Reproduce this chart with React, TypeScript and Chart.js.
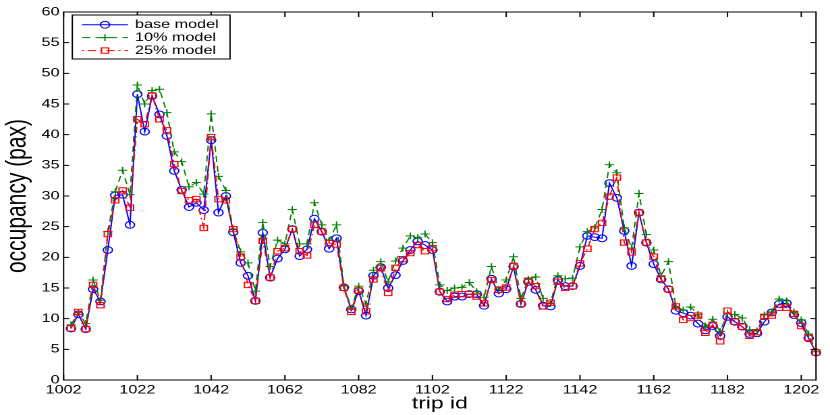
import React, { useEffect, useRef } from "react";
import { Chart, registerables } from "chart.js";

Chart.register(...registerables);

const tripIds = [
  1004, 1006, 1008, 1010, 1012, 1014, 1016, 1018, 1020, 1022,
  1024, 1026, 1028, 1030, 1032, 1034, 1036, 1038, 1040, 1042,
  1044, 1046, 1048, 1050, 1052, 1054, 1056, 1058, 1060, 1062,
  1064, 1066, 1068, 1070, 1072, 1074, 1076, 1078, 1080, 1082,
  1084, 1086, 1088, 1090, 1092, 1094, 1096, 1098, 1100, 1102,
  1104, 1106, 1108, 1110, 1112, 1114, 1116, 1118, 1120, 1122,
  1124, 1126, 1128, 1130, 1132, 1134, 1136, 1138, 1140, 1142,
  1144, 1146, 1148, 1150, 1152, 1154, 1156, 1158, 1160, 1162,
  1164, 1166, 1168, 1170, 1172, 1174, 1176, 1178, 1180, 1182,
  1184, 1186, 1188, 1190, 1192, 1194, 1196, 1198, 1200, 1202,
  1204, 1206,
];

const baseModel = [
  8.4, 10.7, 8.3, 14.8, 12.8, 21.2, 30.1, 30.2, 25.3, 46.6,
  40.5, 46.3, 43.3, 39.8, 34.1, 31.0, 28.2, 28.9, 27.7, 39.1,
  27.3, 30.0, 24.1, 19.1, 17.0, 12.9, 24.0, 16.7, 19.8, 21.3,
  24.6, 20.2, 21.3, 26.3, 24.2, 21.4, 23.1, 15.1, 11.5, 14.5,
  10.5, 17.0, 18.4, 15.0, 17.1, 19.4, 21.2, 22.6, 22.0, 21.2,
  14.4, 12.8, 13.6, 13.6, 14.0, 14.0, 12.1, 16.5, 14.1, 14.8,
  18.5, 12.4, 16.0, 14.7, 12.1, 12.0, 16.3, 15.3, 15.3, 18.6,
  23.5, 23.3, 23.1, 32.1, 29.7, 24.3, 18.6, 27.3, 22.4, 18.9,
  16.4, 14.8, 11.3, 10.9, 10.5, 9.2, 8.1, 8.8, 7.2, 10.3,
  9.5, 8.7, 7.5, 7.6, 9.5, 11.0, 12.4, 12.5, 10.6, 9.3,
  6.8, 4.5,
];

const model10 = [
  9.0, 11.0, 9.2, 16.3, 13.0, 24.2, 30.7, 34.2, 30.2, 48.1,
  45.0, 47.2, 47.4, 43.6, 37.2, 35.6, 31.5, 32.2, 30.3, 43.4,
  33.2, 30.9, 24.5, 20.9, 19.1, 14.5, 25.7, 18.5, 22.8, 22.2,
  27.8, 22.2, 22.2, 28.9, 25.3, 22.8, 25.3, 15.3, 11.7, 15.3,
  12.4, 17.9, 19.3, 16.0, 19.4, 21.5, 23.5, 23.2, 23.8, 22.4,
  15.5, 14.6, 15.0, 15.1, 15.9, 14.4, 13.5, 18.5, 14.8, 16.3,
  20.1, 13.3, 16.4, 16.8, 13.3, 12.5, 17.0, 16.5, 16.6, 21.7,
  24.2, 24.8, 27.8, 35.1, 33.8, 24.8, 21.5, 30.4, 23.7, 21.2,
  17.0, 19.3, 12.0, 11.4, 11.9, 10.7, 8.8, 9.9, 7.9, 10.9,
  10.7, 10.1, 8.2, 8.0, 10.6, 11.1, 13.2, 12.9, 11.1, 9.8,
  7.5, 4.6,
];

const model25 = [
  8.4, 11.1, 8.3, 15.5, 12.2, 23.8, 29.3, 30.9, 28.1, 42.5,
  41.7, 46.4, 42.5, 40.7, 35.2, 30.8, 29.3, 29.5, 24.8, 39.6,
  29.5, 29.3, 24.6, 20.1, 15.5, 12.9, 22.7, 16.7, 21.0, 21.5,
  24.6, 21.0, 20.3, 25.3, 24.2, 22.3, 22.1, 15.0, 11.1, 14.6,
  11.2, 16.4, 18.2, 14.2, 18.3, 19.7, 20.7, 22.0, 21.0, 21.5,
  14.4, 13.2, 13.9, 14.0, 14.0, 13.6, 12.5, 16.3, 14.7, 15.1,
  18.6, 12.4, 16.2, 15.3, 12.0, 12.6, 16.0, 15.0, 15.3, 19.0,
  21.4, 24.6, 25.6, 29.9, 33.0, 22.4, 20.8, 27.3, 22.4, 20.1,
  16.5, 14.8, 12.0, 9.8, 10.1, 10.5, 7.7, 9.0, 6.3, 11.3,
  9.5, 8.7, 7.2, 7.8, 10.3, 10.5, 11.8, 11.8, 10.8, 8.8,
  6.9, 4.5,
];

const seriesLabels = ["base model", "10% model", "25% model"];
const xTickValues = [1002, 1022, 1042, 1062, 1082, 1102, 1122, 1142, 1162, 1182, 1202];
const yTickValues = [0, 5, 10, 15, 20, 25, 30, 35, 40, 45, 50, 55, 60];
const xTitle = "trip id";
const yTitle = "occupancy (pax)";

// The reference figure is horizontally stretched; draw on a narrower canvas and stretch it.
const OUT_W = 830;
const OUT_H = 415;
const IN_W = 615;
const S = OUT_W / IN_W;

const FONT = '"Liberation Sans", Arial, Helvetica, sans-serif';

const framePlugin = {
  id: "matlabFrame",
  afterDraw(chart: any) {
    const { ctx, chartArea } = chart;
    const { left, right, top, bottom } = chartArea;
    const xs = chart.scales.x;
    const ys = chart.scales.y;
    ctx.save();
    ctx.setLineDash([]);
    ctx.strokeStyle = "#000";
    ctx.lineWidth = 1;
    ctx.strokeRect(left, top, right - left, bottom - top);
    ctx.beginPath();
    const tx = 5;
    const ty = 5.5 / S;
    xTickValues.forEach((v) => {
      const px = xs.getPixelForValue(v);
      ctx.moveTo(px, bottom);
      ctx.lineTo(px, bottom - tx);
      ctx.moveTo(px, top);
      ctx.lineTo(px, top + tx);
    });
    yTickValues.forEach((v) => {
      const py = ys.getPixelForValue(v);
      ctx.moveTo(left, py);
      ctx.lineTo(left + ty, py);
      ctx.moveTo(right, py);
      ctx.lineTo(right - ty, py);
    });
    ctx.stroke();

    // legend box
    const bx0 = 72.3 / S;
    const bx1 = 230 / S;
    const by0 = 15;
    const by1 = 59;
    ctx.fillStyle = "#fff";
    ctx.fillRect(bx0, by0, bx1 - bx0, by1 - by0);
    ctx.strokeStyle = "#000";
    ctx.strokeRect(bx0, by0, bx1 - bx0, by1 - by0);

    const rows = [24.8, 37.6, 50.6];
    const lx0 = 82 / S;
    const lx1 = 128 / S;
    const mx = 105 / S;
    const textX = 135 / S;
    const styles = [
      { color: "#0000ff", dash: [] as number[], marker: "circle" },
      { color: "#008000", dash: [6, 4], marker: "cross" },
      { color: "#ff0000", dash: [1.5, 3, 6, 3], marker: "rect" },
    ];
    styles.forEach((st, i) => {
      const yy = rows[i];
      ctx.strokeStyle = st.color;
      ctx.lineWidth = 1;
      ctx.setLineDash(st.dash);
      ctx.beginPath();
      ctx.moveTo(lx0, yy);
      ctx.lineTo(lx1, yy);
      ctx.stroke();
      ctx.setLineDash([]);
      ctx.beginPath();
      if (st.marker === "circle") {
        ctx.arc(mx, yy, 3.4, 0, Math.PI * 2);
      } else if (st.marker === "cross") {
        ctx.moveTo(mx - 3.4, yy);
        ctx.lineTo(mx + 3.4, yy);
        ctx.moveTo(mx, yy - 3.4);
        ctx.lineTo(mx, yy + 3.4);
      } else {
        const h = 3.8 * Math.SQRT1_2;
        ctx.rect(mx - h, yy - h, 2 * h, 2 * h);
      }
      ctx.stroke();
      ctx.fillStyle = "#000";
      ctx.font = `12px ${FONT}`;
      ctx.textBaseline = "middle";
      ctx.textAlign = "left";
      ctx.fillText(seriesLabels[i], textX, yy);
    });
    ctx.restore();
  },
};

export default function App() {
  const canvasRef = useRef<HTMLCanvasElement | null>(null);

  useEffect(() => {
    const canvas = canvasRef.current;
    if (!canvas) return;
    const toPoints = (vals: number[]) => tripIds.map((t, i) => ({ x: t, y: vals[i] }));
    const chart = new Chart(canvas, {
      type: "line",
      data: {
        datasets: [
          {
            label: seriesLabels[0],
            data: toPoints(baseModel),
            borderColor: "#0000ff",
            borderWidth: 1,
            pointStyle: "circle",
            pointRadius: 3.4,
            pointBorderColor: "#0000ff",
            pointBackgroundColor: "rgba(0,0,0,0)",
            pointBorderWidth: 1,
            tension: 0,
            clip: false,
            order: 2,
          },
          {
            label: seriesLabels[1],
            data: toPoints(model10),
            borderColor: "#008000",
            borderWidth: 1,
            borderDash: [6, 4],
            pointStyle: "cross",
            pointRadius: 3.4,
            pointBorderColor: "#008000",
            pointBackgroundColor: "rgba(0,0,0,0)",
            pointBorderWidth: 1,
            tension: 0,
            clip: false,
            order: 1,
          },
          {
            label: seriesLabels[2],
            data: toPoints(model25),
            borderColor: "#ff0000",
            borderWidth: 1,
            borderDash: [6, 3, 1.5, 3],
            pointStyle: "rect",
            pointRadius: 3.8,
            pointBorderColor: "#ff0000",
            pointBackgroundColor: "rgba(0,0,0,0)",
            pointBorderWidth: 1,
            tension: 0,
            clip: false,
            order: 0,
          },
        ] as any,
      },
      options: {
        responsive: false,
        animation: false,
        devicePixelRatio: 2,
        layout: { padding: { left: 0, right: IN_W - 816 / S, top: 12, bottom: 0 } },
        plugins: { legend: { display: false }, tooltip: { enabled: false } },
        scales: {
          x: {
            type: "linear",
            min: 1002,
            max: 1206,
            grid: { display: false, drawTicks: false },
            border: { display: false },
            afterBuildTicks: (scale: any) => {
              scale.ticks = xTickValues.map((v) => ({ value: v }));
            },
            afterFit: (scale: any) => {
              scale.height = 35;
              scale.paddingLeft = 0;
              scale.paddingRight = 0;
            },
            ticks: {
              autoSkip: false,
              maxRotation: 0,
              minRotation: 0,
              padding: 3,
              color: "#000",
              font: { family: FONT, size: 12 },
              callback: (v: any) => String(v),
            },
            title: {
              display: true,
              text: xTitle,
              color: "#000",
              font: { family: FONT, size: 17, lineHeight: 1 },
              padding: { top: 0, bottom: 2.5 },
            },
          },
          y: {
            min: 0,
            max: 60,
            grid: { display: false, drawTicks: false },
            border: { display: false },
            afterBuildTicks: (scale: any) => {
              scale.ticks = yTickValues.map((v) => ({ value: v }));
            },
            afterFit: (scale: any) => {
              scale.width = 63.6 / S;
              scale.paddingTop = 0;
              scale.paddingBottom = 0;
            },
            ticks: {
              padding: 3,
              color: "#000",
              font: { family: FONT, size: 12 },
            },
            title: {
              display: true,
              text: yTitle,
              color: "#000",
              font: { family: FONT, size: 21, lineHeight: 1 },
              padding: { top: 2.8, bottom: 0 },
            },
          },
        },
      } as any,
      plugins: [framePlugin],
    });
    return () => chart.destroy();
  }, []);

  return (
    <div style={{ position: "absolute", left: 0, top: 0, width: OUT_W, height: OUT_H, background: "#fff" }}>
      <canvas
        ref={canvasRef}
        width={IN_W}
        height={OUT_H}
        style={{ width: `${OUT_W}px`, height: `${OUT_H}px`, display: "block" }}
      />
    </div>
  );
}
